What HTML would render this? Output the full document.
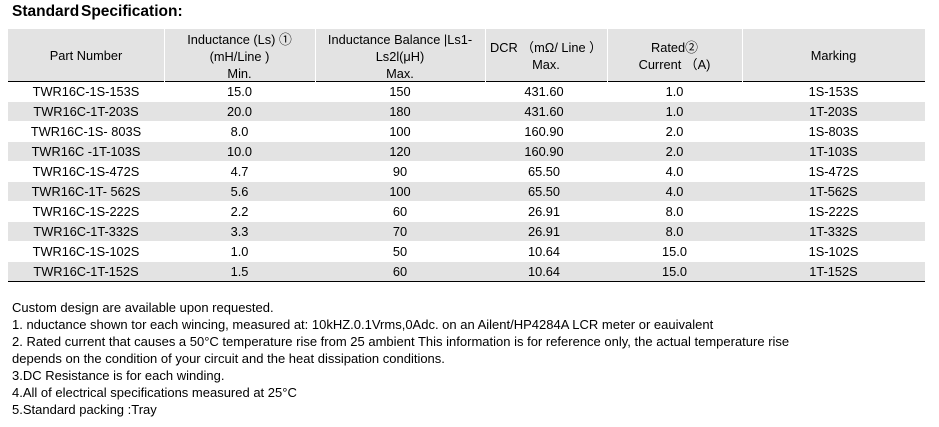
<!DOCTYPE html>
<html>
<head>
<meta charset="utf-8">
<style>
  html, body { margin:0; padding:0; background:#fff; }
  body { width:939px; height:427px; position:relative; overflow:hidden;
         font-family:"Liberation Sans","Noto Sans CJK SC",sans-serif; color:#000; }
  .title { position:absolute; left:12px; top:3px; font-size:15.5px; font-weight:bold;
           line-height:18px; white-space:nowrap; word-spacing:-2.5px; }
  .hc { position:absolute; top:29px; height:52px; background:#e3e3e3; }
  .hl { position:absolute; top:81px; height:1px; background:#000; }
  .ht { position:absolute; font-size:12.8px; line-height:17px; text-align:center; white-space:nowrap; }
  .g { position:absolute; left:8px; width:917px; height:19px; background:#e3e3e3; }
  .row { position:absolute; left:0; width:939px; height:20px; font-size:12.8px; line-height:20px; white-space:nowrap; }
  .row span { position:absolute; top:0; text-align:center; }
  .c1 { left:8px; width:156px; }
  .c2 { left:164px; width:151px; }
  .c3 { left:315px; width:170px; }
  .c4 { left:485px; width:118px; }
  .c5 { left:607px; width:135px; }
  .c6 { left:742px; width:183px; }
  .foot { position:absolute; left:12px; top:299px; font-size:13px; line-height:17px; white-space:nowrap; }
</style>
</head>
<body>
<div class="title">Standard Specification:</div>

<!-- header cells -->
<div class="hc" style="left:8px;width:156px;"></div>
<div class="hc" style="left:165px;width:150px;"></div>
<div class="hc" style="left:316px;width:169px;"></div>
<div class="hc" style="left:486px;width:121px;"></div>
<div class="hc" style="left:608px;width:134px;"></div>
<div class="hc" style="left:743px;width:182px;"></div>
<div class="hl" style="left:8px;width:156px;"></div>
<div class="hl" style="left:165px;width:150px;"></div>
<div class="hl" style="left:316px;width:169px;"></div>
<div class="hl" style="left:486px;width:121px;"></div>
<div class="hl" style="left:608px;width:134px;"></div>
<div class="hl" style="left:743px;width:182px;"></div>

<div class="ht" style="left:8px;width:156px;top:46.6px;">Part Number</div>
<div class="ht" style="left:164px;width:151px;top:30.6px;">Inductance (Ls) ①<br>(mH/Line )<br>Min.</div>
<div class="ht" style="left:315px;width:170px;top:30.6px;">Inductance Balance |Ls1-<br>Ls2l(μH)<br>Max.</div>
<div class="ht" style="left:485px;width:122px;top:39.3px;">DCR （mΩ/ Line ）<br>Max.</div>
<div class="ht" style="left:607px;width:135px;top:39.3px;">Rated②<br>Current （A)</div>
<div class="ht" style="left:742px;width:183px;top:46.6px;">Marking</div>

<!-- gray body rows -->
<div class="g" style="top:102px;"></div>
<div class="g" style="top:142px;"></div>
<div class="g" style="top:182px;"></div>
<div class="g" style="top:222px;"></div>
<div class="g" style="top:262px;"></div>
<div style="position:absolute;left:8px;width:917px;top:281px;height:1px;background:#000;"></div>

<div class="row" style="top:82px;"><span class="c1">TWR16C-1S-153S</span><span class="c2">15.0</span><span class="c3">150</span><span class="c4">431.60</span><span class="c5">1.0</span><span class="c6">1S-153S</span></div>
<div class="row" style="top:102px;"><span class="c1">TWR16C-1T-203S</span><span class="c2">20.0</span><span class="c3">180</span><span class="c4">431.60</span><span class="c5">1.0</span><span class="c6">1T-203S</span></div>
<div class="row" style="top:122px;"><span class="c1">TWR16C-1S- 803S</span><span class="c2">8.0</span><span class="c3">100</span><span class="c4">160.90</span><span class="c5">2.0</span><span class="c6">1S-803S</span></div>
<div class="row" style="top:142px;"><span class="c1">TWR16C -1T-103S</span><span class="c2">10.0</span><span class="c3">120</span><span class="c4">160.90</span><span class="c5">2.0</span><span class="c6">1T-103S</span></div>
<div class="row" style="top:162px;"><span class="c1">TWR16C-1S-472S</span><span class="c2">4.7</span><span class="c3">90</span><span class="c4">65.50</span><span class="c5">4.0</span><span class="c6">1S-472S</span></div>
<div class="row" style="top:182px;"><span class="c1">TWR16C-1T- 562S</span><span class="c2">5.6</span><span class="c3">100</span><span class="c4">65.50</span><span class="c5">4.0</span><span class="c6">1T-562S</span></div>
<div class="row" style="top:202px;"><span class="c1">TWR16C-1S-222S</span><span class="c2">2.2</span><span class="c3">60</span><span class="c4">26.91</span><span class="c5">8.0</span><span class="c6">1S-222S</span></div>
<div class="row" style="top:222px;"><span class="c1">TWR16C-1T-332S</span><span class="c2">3.3</span><span class="c3">70</span><span class="c4">26.91</span><span class="c5">8.0</span><span class="c6">1T-332S</span></div>
<div class="row" style="top:242px;"><span class="c1">TWR16C-1S-102S</span><span class="c2">1.0</span><span class="c3">50</span><span class="c4">10.64</span><span class="c5">15.0</span><span class="c6">1S-102S</span></div>
<div class="row" style="top:262px;"><span class="c1">TWR16C-1T-152S</span><span class="c2">1.5</span><span class="c3">60</span><span class="c4">10.64</span><span class="c5">15.0</span><span class="c6">1T-152S</span></div>

<div class="foot">Custom design are available upon requested.<br>
1. nductance shown tor each wincing, measured at: 10kHZ.0.1Vrms,0Adc. on an Ailent/HP4284A LCR meter or eauivalent<br>
2. Rated current that causes a 50°C temperature rise from 25 ambient This information is for reference only, the actual temperature rise<br>
depends on the condition of your circuit and the heat dissipation conditions.<br>
3.DC Resistance is for each winding.<br>
4.All of electrical specifications measured at 25°C<br>
5.Standard packing :Tray</div>
</body>
</html>
